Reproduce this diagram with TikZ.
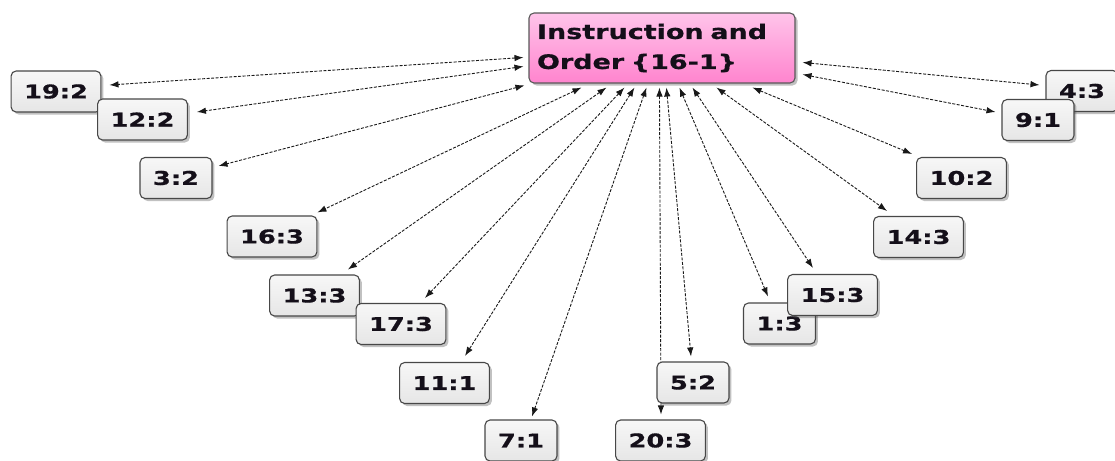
\documentclass[tikz,border=0pt]{standalone}
\usepackage{fontspec}
\newfontfamily\lab[FakeStretch=1.35,FakeBold=0.8]{DejaVu Sans}
\usetikzlibrary{arrows.meta,calc,shadows}
\pgfdeclarelayer{background}
\pgfsetlayers{background,main}
\definecolor{pinktop}{RGB}{255,196,234}
\definecolor{pinkbot}{RGB}{255,132,206}
\definecolor{leaftop}{RGB}{247,247,247}
\definecolor{leafbot}{RGB}{230,230,230}
\definecolor{txt}{RGB}{20,15,25}
\tikzset{
  leaf/.style={draw=black!72, rounded corners=5pt, line width=1.1pt,
    top color=leaftop, bottom color=leafbot, minimum height=41pt,
    inner xsep=13pt, inner ysep=0pt, text=txt,
    font=\lab\bfseries\fontsize{19}{21}\selectfont,
    drop shadow={shadow xshift=2.5pt, shadow yshift=-2.5pt, opacity=0.35, fill=black!70}},
  hub/.style={draw=black!65, rounded corners=5pt, line width=1.1pt,
    top color=pinktop, bottom color=pinkbot, text width=250pt, text=txt,
    inner xsep=8pt, inner ysep=0pt, minimum height=70pt, align=left,
    font=\lab\bfseries\fontsize{20}{30}\selectfont,
    drop shadow={shadow xshift=2.5pt, shadow yshift=-2.5pt, opacity=0.35, fill=black!70}},
  conn/.style={{Latex[length=9pt,width=6.5pt]}-{Latex[length=9pt,width=6.5pt]},
    dash pattern=on 3pt off 1.5pt, line width=0.9pt, draw=black!90}
}
\begin{document}
\begin{tikzpicture}[x=1pt,y=-1pt]
\useasboundingbox (0,0) rectangle (1115,460);
\node[hub] (C) at (662,48) {Instruction and\\Order \{16-1\}};
\node[leaf] (n19) at (56,91.5) {19:2};
\node[leaf] (n12) at (142.5,119.5) {12:2};
\node[leaf] (n3) at (176,178) {3:2};
\node[leaf] (n16) at (272,236.5) {16:3};
\node[leaf] (n13) at (314.5,295.5) {13:3};
\node[leaf] (n17) at (401,324) {17:3};
\node[leaf] (n11) at (444.5,383) {11:1};
\node[leaf] (n7) at (521,440.5) {7:1};
\node[leaf] (n20) at (660.5,440.5) {20:3};
\node[leaf] (n5) at (693,382.5) {5:2};
\node[leaf] (n1) at (779.5,323.5) {1:3};
\node[leaf] (n15) at (832.5,295) {15:3};
\node[leaf] (n14) at (918.5,237) {14:3};
\node[leaf] (n10) at (961.5,178) {10:2};
\node[leaf] (n4) at (1082,91) {4:3};
\node[leaf] (n9) at (1038,120) {9:1};
\begin{pgfonlayer}{background}
\draw[conn] ($(C.north west)+(-5,45)$) -- ($(n19.east)+(8,-6.5)$);
\draw[conn] ($(C.north west)+(-5,54)$) -- ($(n12.east)+(9,-7.5)$);
\draw[conn] ($(C.north west)+(-4,73)$) -- ($(n3.east)+(6,-12)$);
\draw[conn] ($(C.south west)+(53,4)$) -- ($(n16.north east)+(0,-3)$);
\draw[conn] ($(C.south west)+(78,4)$) -- ($(n13.north east)+(-12,-5)$);
\draw[conn] ($(C.south west)+(96,4)$) -- ($(n17.north)+(24,-5)$);
\draw[conn] ($(C.south west)+(106,4)$) -- ($(n11.north)+(20.5,-6)$);
\draw[conn] ($(C.south west)+(118,4)$) -- ($(n7.north)+(11,-3)$);
\draw[conn] ($(C.south west)+(131,4)$) -- ($(n20.north)+(0.5,-5)$);
\draw[conn] ($(C.south west)+(138,4)$) -- ($(n5.north)+(-2,-5)$);
\draw[conn] ($(C.south west)+(151,4)$) -- ($(n1.north)+(-11.5,-6)$);
\draw[conn] ($(C.south west)+(164,4)$) -- ($(n15.north)+(-19.5,-6)$);
\draw[conn] ($(C.south west)+(188,4)$) -- ($(n14.north)+(-31.5,-5)$);
\draw[conn] ($(C.south west)+(224,4)$) -- ($(n10.north west)+(-4,-3)$);
\draw[conn] ($(C.north east)+(7,62)$) -- ($(n9.west)+(-6,-8)$);
\draw[conn] ($(C.north east)+(7,50)$) -- ($(n4.west)+(-6,-6)$);
\end{pgfonlayer}
\end{tikzpicture}
\end{document}
